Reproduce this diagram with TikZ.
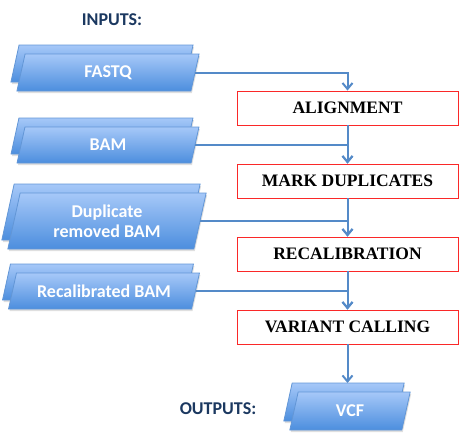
\documentclass[tikz,border=0pt]{standalone}
\usepackage{fontspec}
\setmainfont{Liberation Serif}
\newfontfamily\calib{Carlito}
\usetikzlibrary{shadows,arrows.meta}

\definecolor{intop}{RGB}{166,200,248}
\definecolor{inbot}{RGB}{76,142,222}
\definecolor{inborder}{RGB}{98,150,214}
\definecolor{flowblue}{RGB}{84,138,200}
\definecolor{boxred}{RGB}{250,40,40}
\definecolor{labnavy}{RGB}{27,56,96}

% file symbol: back copy, front copy, and a named text node on top
% #1 name, #2 x, #3 y, #4 side length, #5 height, #6 text
\newcommand\infile[6]{%
    \path[infile] (#2-6,#3-9) ++({-#4/2-0.11*#5},{#5/2}) -- ++(#4,0) -- ++({0.22*#5},-#5) -- ++(-#4,0) -- cycle;
    \path[infile] (#2,#3) ++({-#4/2-0.11*#5},{#5/2}) -- ++(#4,0) -- ++({0.22*#5},-#5) -- ++(-#4,0) -- cycle;
    \coordinate (#1 back) at (#2-6,#3-9-#5/2);
    \node[intext, minimum width=#4pt, minimum height=#5pt] (#1) at (#2,#3) {#6};
}

\begin{document}
\begin{tikzpicture}[
    x=1pt, y=-1pt,
    infile/.style = {draw=inborder, line width=0.8pt, top color=intop, bottom color=inbot,
        drop shadow={shadow xshift=1pt, shadow yshift=-2pt, opacity=0.25}},
    intext/.style = {text=white, align=center, inner sep=0pt,
        font=\calib\bfseries\fontsize{18}{20}\selectfont},
    procbox/.style = {draw=boxred, line width=0.9pt, fill=white,
        minimum width=221pt, minimum height=34pt, inner sep=0pt,
        font=\bfseries\fontsize{17.5}{20}\selectfont},
    flow/.style = {draw=flowblue, line width=2pt, -{Straight Barb[length=6pt, width=10pt]}},
    caption/.style = {text=labnavy, font=\calib\bfseries\fontsize{18}{20}\selectfont}
    ]
    \useasboundingbox (0,0) rectangle (466,439);

    % Input files
    \infile{fastq}{108}{72.5}{174}{37}{FASTQ}
    \infile{bam}{108}{145}{174}{36}{BAM}
    \infile{dedup}{107}{221}{186}{56}{Duplicate\\removed BAM}
    \infile{recal}{104}{291}{183}{36}{Recalibrated BAM}

    % Output file
    \infile{vcf}{350}{411}{112}{38}{VCF}

    % Processing steps
    \node[procbox] (align)   at (347.5,108) {ALIGNMENT};
    \node[procbox] (markdup) at (347.5,181) {MARK DUPLICATES};
    \node[procbox] (bqsr)    at (347.5,254) {RECALIBRATION};
    \node[procbox] (varcall) at (347.5,327) {VARIANT CALLING};

    % Labels
    \node[caption] (inputs)  at (112,20)  {INPUTS:};
    \node[caption] (outputs) at (218,409) {OUTPUTS:};

    % Pipeline flow
    \path[flow] (fastq.east) -| (align.north);
    \path[flow] (align.south) -- (markdup.north);
    \path[flow] (bam.east) -| (markdup.north);
    \path[flow] (markdup.south) -- (bqsr.north);
    \path[flow] (dedup.east) -| (bqsr.north);
    \path[flow] (bqsr.south) -- (varcall.north);
    \path[flow] (recal.east) -| (varcall.north);
    \path[flow] (varcall.south) -- (varcall.south |- vcf back);
\end{tikzpicture}
\end{document}
